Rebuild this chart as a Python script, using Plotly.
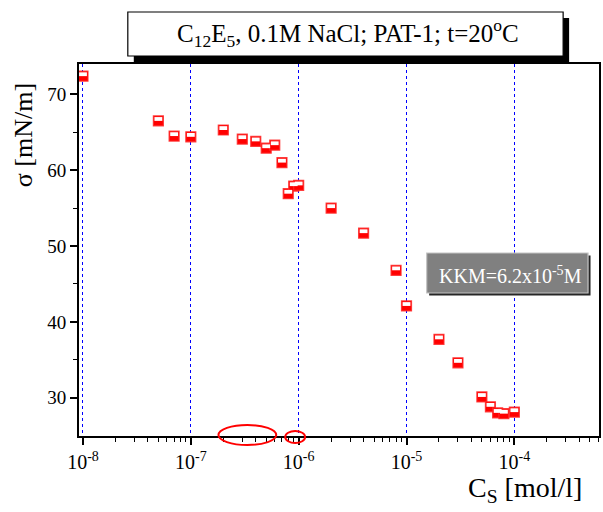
import numpy as np
import plotly.graph_objects as go

# Surface tension isotherm of C12E5 in 0.1 M NaCl (PAT-1, 20 °C)
conc = [1e-8, 5e-8, 7e-8, 1e-7, 2e-7, 3e-7, 4e-7, 5e-7, 6e-7, 7e-7, 8e-7, 9e-7,
        1e-6, 2e-6, 4e-6, 8e-6, 1e-5, 2e-5, 3e-5, 5e-5, 6e-5, 7e-5, 8e-5, 1e-4]
sigma = [72.4, 66.5, 64.5, 64.4, 65.3, 64.1, 63.8, 62.9, 63.3, 61.0, 56.9, 57.9,
         58.0, 55.0, 51.7, 46.8, 42.1, 37.7, 34.6, 30.1, 28.8, 28.0, 27.9, 28.1]

decades = [-8, -7, -6, -5, -4]
tick_vals = [10.0 ** d for d in decades]
tick_text = ["10<sup>%d</sup>" % d for d in decades]
minor_vals = [m * 10.0 ** d for d in range(-9, -3) for m in range(2, 10)]

y_ticks = [30, 40, 50, 60, 70]
y_minor = [35, 45, 55, 65]

x_range = [-8.037, -3.215]
y_range = [24.95, 74.0]

W_PX, H_PX = 603, 512
L, R, T, B = 79, 601, 64, 436


def fx(px):
    return (px - L) / (R - L)


def fy(py):
    return (B - py) / (B - T)


SERIF = "Liberation Serif"

fig = go.Figure()

# red half-filled squares: filled body ...
fig.add_trace(go.Scatter(
    x=conc, y=sigma, mode="markers", cliponaxis=False,
    marker=dict(symbol="square", size=10, color="#ff0000",
                line=dict(color="rgba(255,40,40,0.85)", width=1.2)),
    showlegend=False,
))
# ... with a white window in the upper part (same values, axis nudged up)
fig.add_trace(go.Scatter(
    x=conc, y=sigma, mode="markers", cliponaxis=False, yaxis="y2",
    marker=dict(symbol="line-ew", size=5.6,
                line=dict(color="white", width=3.8)),
    showlegend=False,
))

px_per_unit = (B - T) / (y_range[1] - y_range[0])
nudge = 1.9 / px_per_unit

fig.update_layout(
    width=W_PX, height=H_PX,
    margin=dict(l=L, r=W_PX - R, t=T, b=H_PX - B),
    paper_bgcolor="white", plot_bgcolor="white",
    font=dict(family=SERIF, color="black"),
    xaxis=dict(
        type="log", range=x_range,
        tickmode="array", tickvals=tick_vals, ticktext=tick_text,
        ticks="outside", ticklen=7, tickwidth=1.5, tickcolor="black",
        tickfont=dict(size=20, family=SERIF),
        minor=dict(tickmode="array", tickvals=minor_vals, ticks="outside",
                   ticklen=4, tickwidth=1.2, tickcolor="black", showgrid=False),
        showline=True, linecolor="black", linewidth=2, mirror=True,
        showgrid=True, gridcolor="#0000ff", gridwidth=1, griddash="dot",
        zeroline=False,
    ),
    yaxis=dict(
        range=y_range,
        tickmode="array", tickvals=y_ticks,
        ticks="outside", ticklen=7, tickwidth=1.5, tickcolor="black",
        tickfont=dict(size=19, family=SERIF),
        minor=dict(tickmode="array", tickvals=y_minor, ticks="outside",
                   ticklen=4, tickwidth=1.2, tickcolor="black", showgrid=False),
        showline=True, linecolor="black", linewidth=2, mirror=True,
        showgrid=False, zeroline=False,
    ),
    yaxis2=dict(
        overlaying="y", range=[y_range[0] - nudge, y_range[1] - nudge],
        visible=False,
    ),
)

shapes = []
# title box with drop shadow
shapes.append(dict(type="rect", xref="paper", yref="paper", layer="above",
                   x0=fx(134), x1=fx(571), y0=fy(62), y1=fy(18),
                   fillcolor="black", line=dict(width=0)))
shapes.append(dict(type="rect", xref="paper", yref="paper", layer="above",
                   x0=fx(128), x1=fx(565), y0=fy(56), y1=fy(12),
                   fillcolor="white", line=dict(color="black", width=1.2)))
# KKM label box with bevel
shapes.append(dict(type="rect", xref="paper", yref="paper", layer="above",
                   x0=fx(430.5), x1=fx(592.5), y0=fy(295.5), y1=fy(255.5),
                   fillcolor="#262626", line=dict(width=0)))
shapes.append(dict(type="rect", xref="paper", yref="paper", layer="above",
                   x0=fx(428), x1=fx(590), y0=fy(293), y1=fy(253),
                   fillcolor="#808080", line=dict(color="#c4c4c4", width=1.2)))
# red ellipses on the concentration axis
shapes.append(dict(type="circle", xref="paper", yref="paper", layer="above",
                   x0=fx(219), x1=fx(277), y0=fy(445), y1=fy(425),
                   line=dict(color="#ff0000", width=2)))
shapes.append(dict(type="circle", xref="paper", yref="paper", layer="above",
                   x0=fx(286), x1=fx(306), y0=fy(443), y1=fy(431),
                   line=dict(color="#ff0000", width=2)))
fig.update_layout(shapes=shapes)

annotations = [
    dict(text="C<sub>12</sub>E<sub>5</sub>, 0.1M NaCl; PAT-1; t=20<sup>o</sup>C",
         xref="paper", yref="paper", x=fx(349), y=fy(33),
         xanchor="center", yanchor="middle", showarrow=False,
         font=dict(family=SERIF, size=25, color="black")),
    dict(text="KKM=6.2x10<sup>-5</sup>M",
         xref="paper", yref="paper", x=fx(512), y=fy(275),
         xanchor="center", yanchor="middle", showarrow=False,
         font=dict(family=SERIF, size=20, color="white")),
    dict(text="C<sub>S</sub> [mol/l]",
         xref="paper", yref="paper", x=fx(586), y=fy(489),
         xanchor="right", yanchor="middle", showarrow=False,
         font=dict(family=SERIF, size=28, color="black")),
    dict(text="σ [mN/m]", textangle=-90,
         xref="paper", yref="paper", x=fx(23), y=fy(135),
         xanchor="center", yanchor="middle", showarrow=False,
         font=dict(family=SERIF, size=26, color="black")),
]
fig.update_layout(annotations=annotations)

fig.write_html("out.html")
